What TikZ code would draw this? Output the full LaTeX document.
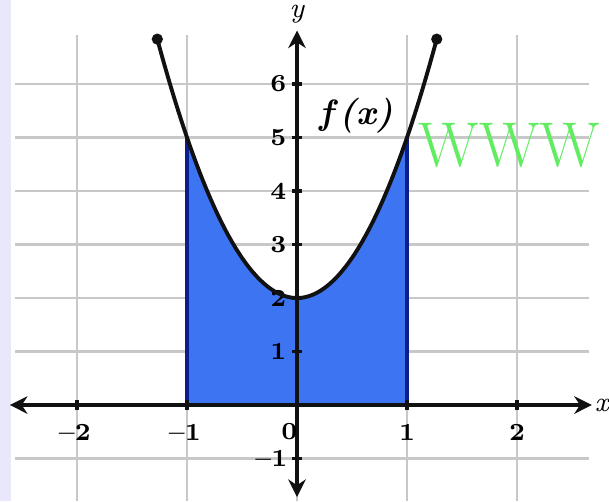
\documentclass[tikz,border=0pt]{standalone}
\usetikzlibrary{arrows.meta}
\definecolor{ink}{HTML}{111111}
\definecolor{gridgray}{HTML}{C8C8C8}
\definecolor{areablue}{HTML}{3D74F2}
\definecolor{edgeblue}{HTML}{0A1E8C}
\definecolor{lavender}{HTML}{E9E7FA}
\definecolor{wmgreen}{HTML}{62EC62}

\begin{document}
\begin{tikzpicture}[x=1.1cm,y=.535cm,
          every node/.style={font=\fontsize{7}{8}\selectfont\bfseries,inner sep=1pt},
          gridline/.style={gridgray,line width=.7pt},
          axis/.style={{Stealth[length=5pt,width=5pt]}-{Stealth[length=5pt,width=5pt]},ink,line width=.9pt},
          tickmark/.style={ink,line width=.9pt},
          curve/.style={ink,line width=1.1pt},
          area/.style={fill=areablue}]
        \useasboundingbox (-2.7,-1.794) rectangle (2.836,7.57);
        \fill[lavender] (-2.7,-1.794) rectangle (-2.6,7.57);

        % grid
        \foreach \i in {-2,...,2}
          \draw[gridline] (\i,-1.794) -- (\i,6.92);
        \foreach \j in {-1,...,6}
          \draw[gridline] (-2.56,\j) -- (2.65,\j);

        % shaded area under f on [-1,1]
        \fill[area] (-1,0) -- plot[domain=-1:1,samples=60] (\x,{3*\x*\x+2}) -- (1,0) -- cycle;
        \draw[edgeblue,line width=1pt] (-1,0) -- (-1,5);
        \draw[edgeblue,line width=1pt] (1,0) -- (1,5);

        % axes
        \coordinate (xl) at (-2.61,0);
        \coordinate (xr) at (2.68,0);
        \coordinate (yb) at (0,-1.72);
        \coordinate (yt) at (0,7.0);
        \draw[axis] (xl) -- (xr);
        \draw[axis] (yb) -- (yt);
        \node[font=\fontsize{8}{9}\selectfont\itshape] (xlab) at (2.77,0) {x};
        \node[font=\fontsize{8}{9}\selectfont\itshape] (ylab) at (0,7.3) {y};

        % ticks
        \foreach \i in {-2,-1,1,2}
          \draw[tickmark] (\i,-.1) -- (\i,.1);
        \foreach \j in {-1,1,2,3,4,5,6}
          \draw[tickmark] (-.045,\j) -- (.045,\j);
        \node (tm2) at (-2.02,-.52) {--2};
        \node (tm1) at (-1.02,-.52) {--1};
        \node (tp1) at (1,-.52) {1};
        \node (tp2) at (2,-.52) {2};
        \node (t0) at (-.07,-.5) {0};
        \node[anchor=east] (tym1) at (-.05,-1) {--1};
        \foreach \j in {1,...,6}
          \node[anchor=east] (ty\j) at (-.06,\j) {\j};

        % the curve
        \coordinate (cl) at (-1.27,{3*1.27*1.27+2});
        \coordinate (cr) at (1.27,{3*1.27*1.27+2});
        \draw[curve] plot[domain=-1.27:1.27,samples=80] (\x,{3*\x*\x+2});
        \fill[ink] (cl) circle (1.6pt);
        \fill[ink] (cr) circle (1.6pt);
        \node[font=\fontsize{10}{11}\selectfont\bfseries\itshape] (flab) at (.54,5.4) {f\,(x)};

        \node[font=\fontsize{18}{20}\selectfont,text=wmgreen,inner sep=0pt] (wm) at (1.93,4.85) {WWW};
      \end{tikzpicture}
\end{document}
